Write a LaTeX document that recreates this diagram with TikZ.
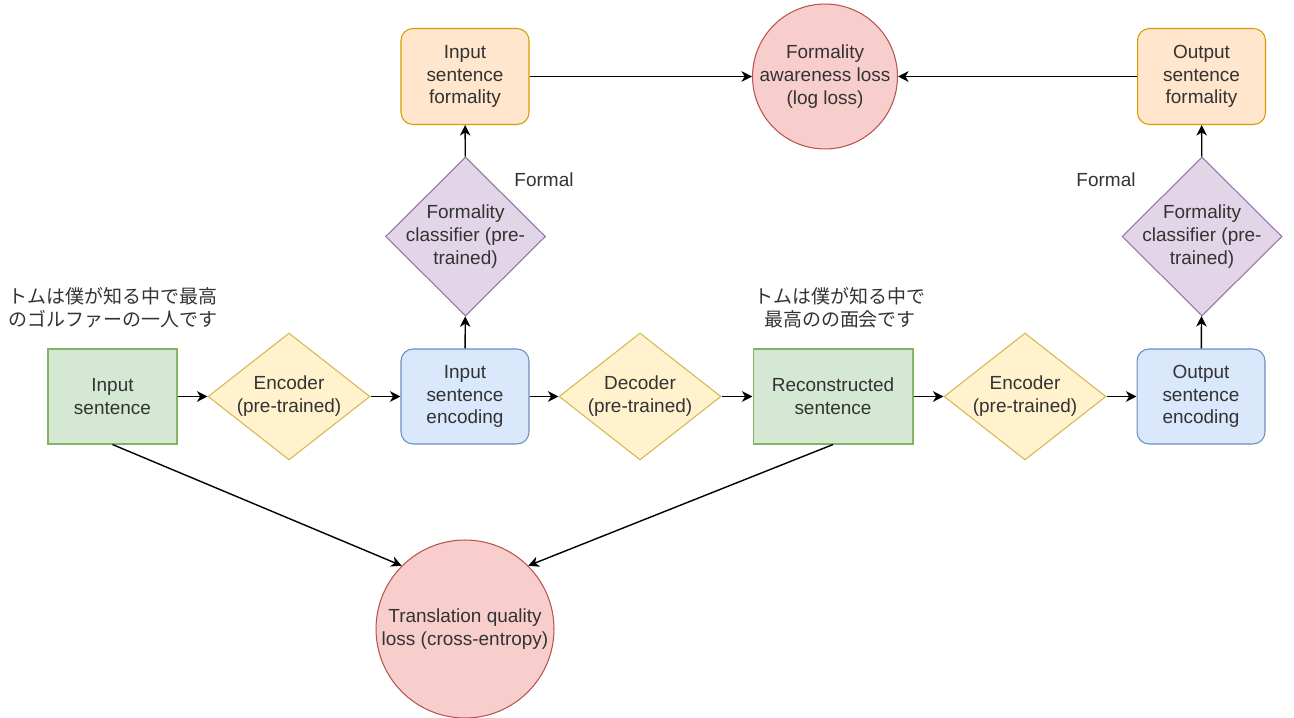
\documentclass[tikz,border=0pt]{standalone}
\usepackage{fontspec}
\setmainfont{Liberation Sans}
\newfontfamily\jpfont{Noto Sans CJK JP}
\usetikzlibrary{shapes.geometric,arrows.meta}
\definecolor{txtgray}{HTML}{333333}
\definecolor{greenfill}{HTML}{D5E8D4}\definecolor{greenline}{HTML}{82B366}
\definecolor{yellowfill}{HTML}{FFF2CC}\definecolor{yellowline}{HTML}{D6B656}
\definecolor{bluefill}{HTML}{DAE8FC}\definecolor{blueline}{HTML}{6C8EBF}
\definecolor{purplefill}{HTML}{E1D5E7}\definecolor{purpleline}{HTML}{9673A6}
\definecolor{orangefill}{HTML}{FFE6CC}\definecolor{orangeline}{HTML}{D79B00}
\definecolor{redfill}{HTML}{F8CECC}\definecolor{redline}{HTML}{B85450}

\begin{document}
\begin{tikzpicture}[x=0.02cm,y=0.02cm,
  every node/.style={font=\fontsize{10.8}{13}\selectfont, text=txtgray, align=center, inner sep=1pt},
  sentbox/.style={draw=greenline, fill=greenfill, line width=0.6pt, minimum height=1.9cm},
  encbox/.style={draw=blueline, fill=bluefill, line width=0.6pt, rounded corners=0.24cm, minimum width=2.56cm, minimum height=1.9cm},
  fmlbox/.style={draw=orangeline, fill=orangefill, line width=0.6pt, rounded corners=0.24cm, minimum width=2.56cm, minimum height=1.92cm},
  coder/.style={diamond, draw=yellowline, fill=yellowfill, line width=0.6pt, inner sep=-5pt, minimum width=3.24cm, minimum height=2.54cm},
  classdia/.style={diamond, draw=purpleline, fill=purplefill, line width=0.6pt, inner sep=-5pt, minimum width=3.2cm, minimum height=3.18cm},
  lossball/.style={circle, draw=redline, fill=redfill, line width=0.6pt, inner sep=0pt, minimum size=#1},
  arr/.style={-{Stealth[length=6pt,width=6pt,inset=1.8pt]}, line width=0.8pt, black}
]
\useasboundingbox (0,0) rectangle (1294,717);
% main row
\node[sentbox, minimum width=2.58cm] (insent) at (112.5,320.5) {Input\\sentence};
\node[coder] (enc1) at (289,320.5) {Encoder\\(pre-trained)};
\node[encbox] (inenc) at (465,320.5) {Input\\sentence\\encoding};
\node[coder] (dec) at (640,320.5) {Decoder\\(pre-trained)};
\node[sentbox, minimum width=3.2cm] (recsent) at (833,320.5) {Reconstructed\\sentence};
\node[coder] (enc2) at (1025,320.5) {Encoder\\(pre-trained)};
\node[encbox] (outenc) at (1201,320.5) {Output\\sentence\\encoding};
% classifiers
\node[classdia] (cls1) at (465.5,480.5) {Formality\\classifier (pre-\\trained)};
\node[classdia] (cls2) at (1202,480.5) {Formality\\classifier (pre-\\trained)};
\node (fmlin) at (544,537) {Formal};
\node (fmlout) at (1106,537) {Formal};
% formality
\node[fmlbox] (infml) at (465,640.5) {Input\\sentence\\formality};
\node[fmlbox] (outfml) at (1201.5,640.5) {Output\\sentence\\formality};
% losses
\node[lossball=2.88cm] (fal) at (825,640.5) {Formality\\awareness loss\\(log loss)};
\node[lossball=3.56cm] (tql) at (465,88) {Translation quality\\loss (cross-entropy)};
% example sentences
\node[font=\jpfont\fontsize{10.8}{13}\selectfont] (jpin) at (113,409) {トムは僕が知る中で最高\\のゴルファーの一人です};
\node[font=\jpfont\fontsize{10.8}{13}\selectfont] (jprec) at (840,409) {トムは僕が知る中で\\最高のの面会です};
% connectors
\draw[arr] (insent) -- (enc1);
\draw[arr] (enc1) -- (inenc);
\draw[arr] (inenc) -- (dec);
\draw[arr] (dec) -- (recsent);
\draw[arr] (recsent) -- (enc2);
\draw[arr] (enc2) -- (outenc);
\draw[arr] (inenc) -- (cls1);
\draw[arr] (cls1) -- (infml);
\draw[arr] (outenc) -- (cls2);
\draw[arr] (cls2) -- (outfml);
\draw[arr] (infml) -- (fal);
\draw[arr] (outfml) -- (fal);
\draw[arr] (insent.south) -- (tql.north west);
\draw[arr] (recsent.south) -- (tql.north east);
\end{tikzpicture}
\end{document}
